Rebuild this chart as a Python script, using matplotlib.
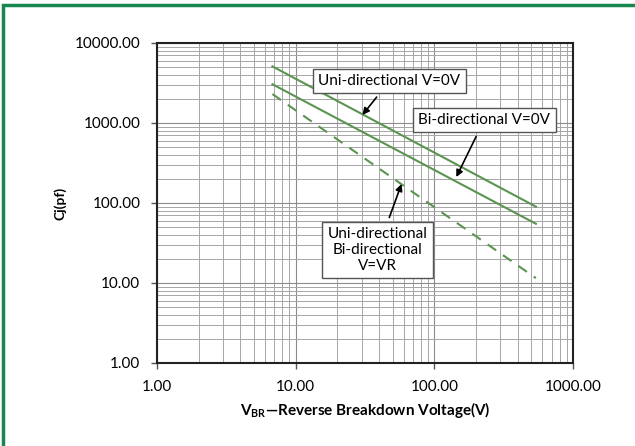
import matplotlib.pyplot as plt
from matplotlib.patches import Rectangle

plt.rcParams['font.family'] = ['Lato', 'DejaVu Sans']
plt.rcParams['mathtext.fontset'] = 'custom'
plt.rcParams['mathtext.bf'] = 'Lato:bold'
plt.rcParams['mathtext.rm'] = 'Lato'

# breakdown voltage (V) and junction capacitance (pF)
vbr = [6.8, 540]
cj_uni_0v = [5100, 90]
cj_bi_0v = [3050, 55]
cj_vr = [2300, 11.5]

x_ticks = [1, 10, 100, 1000]
y_ticks = [1, 10, 100, 1000, 10000]

fig = plt.figure(figsize=(6.35, 4.46), dpi=100)
ax = fig.add_axes([157 / 635, 1 - 363 / 446, 416 / 635, 320 / 446])

line_col = '#5b9450'
ax.plot(vbr, cj_uni_0v, color=line_col, lw=1.5)
ax.plot(vbr, cj_bi_0v, color=line_col, lw=1.5)
ax.plot(vbr, cj_vr, color=line_col, lw=1.5, ls=(0, (5, 4)))

ax.set_xscale('log')
ax.set_yscale('log')
ax.set_xlim(1, 1000)
ax.set_ylim(1, 10000)
ax.set_xticks(x_ticks)
ax.set_xticklabels(['%.2f' % v for v in x_ticks])
ax.set_yticks(y_ticks)
ax.set_yticklabels(['%.2f' % v for v in y_ticks])
ax.grid(True, which='major', color='#8c8c8c', lw=0.8)
ax.grid(True, which='minor', color='#a6a6a6', lw=0.7)
ax.tick_params(which='minor', length=0)
ax.tick_params(which='major', length=4, width=1, labelsize=11, color='#555555')
ax.tick_params(axis='y', pad=8)
ax.tick_params(axis='x', pad=8)
for s in ax.spines.values():
    s.set_linewidth(1.5)
    s.set_color('#222222')

box = dict(boxstyle='square,pad=0.35', fc='white', ec='#555555', lw=1)
arrow = dict(arrowstyle='-|>', color='black', lw=1.2, mutation_scale=10,
             shrinkA=3, shrinkB=0)
ax.annotate('Uni-directional V=0V', xy=(30.3, 1260), xytext=(47.5, 3350),
            fontsize=11, ha='center', va='center', bbox=box, arrowprops=arrow)
ax.annotate('Bi-directional V=0V', xy=(144, 211), xytext=(229, 1090),
            fontsize=11, ha='center', va='center', bbox=box, arrowprops=arrow)
ax.annotate('Uni-directional\nBi-directional\nV=VR', xy=(58, 173), xytext=(38.9, 25.9),
            fontsize=11, ha='center', va='center', bbox=box, arrowprops=arrow,
            linespacing=1.15)

fig.text(60 / 635, 1 - 203 / 446, 'Cj(pf)', rotation=90, fontsize=10,
         fontweight='bold', ha='center', va='center')
fig.text(365 / 635, 1 - 410 / 446, r'V$_{\mathbf{BR}}$—Reverse Breakdown Voltage(V)',
         fontsize=11, fontweight='bold', ha='center', va='center')

fig.patches.append(Rectangle((3 / 635, -0.1), 1.1, 1.1 - 5 / 446,
                             transform=fig.transFigure, fill=False,
                             ec='#17864f', lw=2.5))

fig.savefig('out.png', dpi=100)
